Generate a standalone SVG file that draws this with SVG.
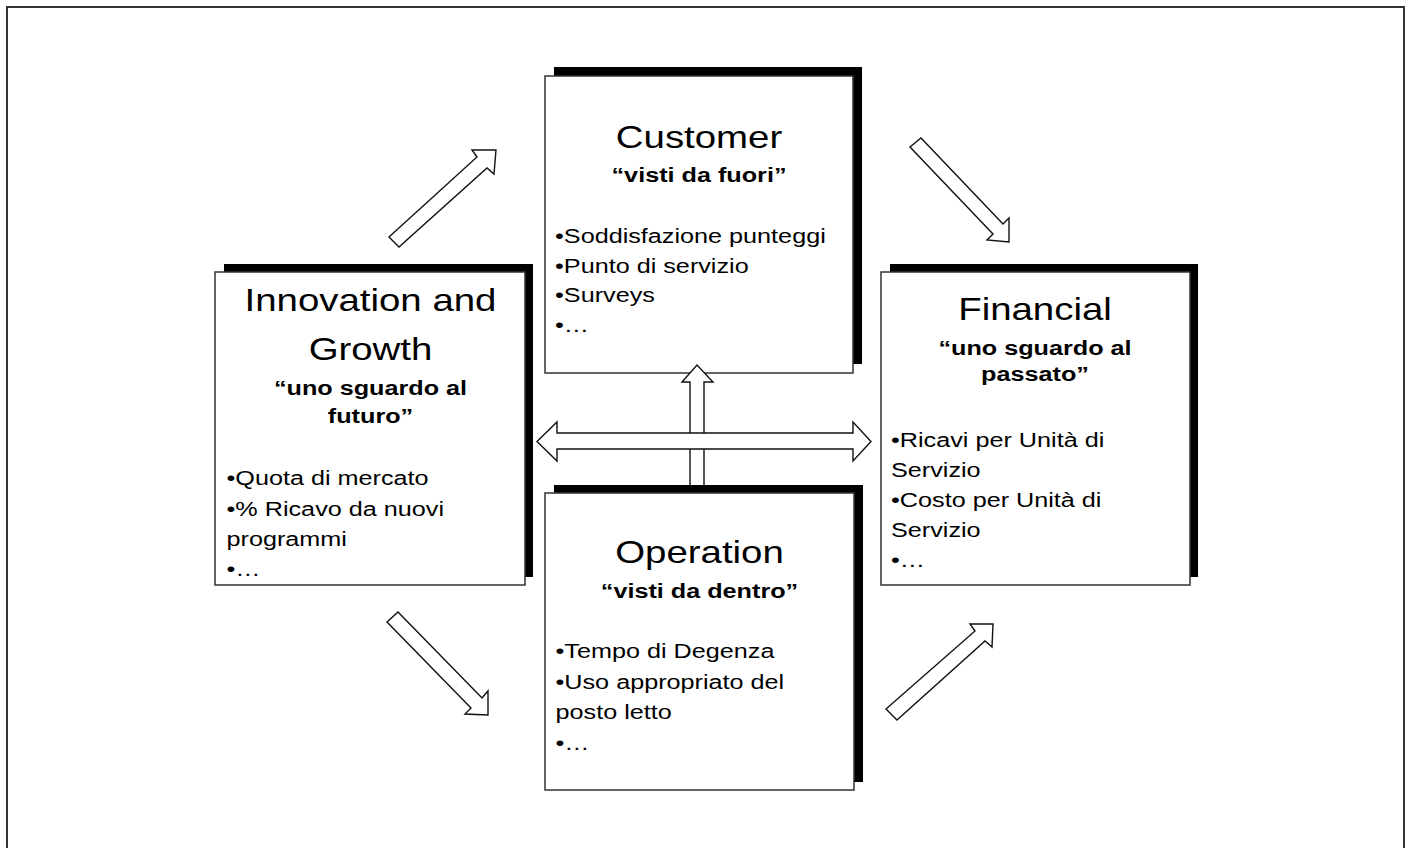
<svg xmlns="http://www.w3.org/2000/svg" width="1410" height="848" viewBox="0 0 1410 848">
<style>
.shadow{fill:#000}
.box{fill:#fff;stroke:#333;stroke-width:1.5}
.arrow{fill:#fff;stroke:#111;stroke-width:1.4;stroke-linejoin:miter}
text{font-family:"Liberation Sans",Arial,sans-serif;fill:#000}
.title{font-size:32px;text-anchor:middle}
.sub{font-size:21px;font-weight:bold;text-anchor:middle}
.body{font-size:21px}
</style>
<rect x="0" y="0" width="1410" height="848" fill="#fff"/>
<path d="M7,860 V7 H1404 V860" fill="none" stroke="#333" stroke-width="2"/>

<g id="innovation">
<rect class="shadow" x="224" y="264" width="309" height="313"/>
<rect class="box" x="215" y="272" width="310" height="313"/>
<g transform="translate(370.5 0) scale(1.2 1)">
<text class="title" x="0" y="311.5">Innovation and</text>
<text class="title" x="0" y="360.5">Growth</text>
<text class="sub" x="0" y="395.5">“uno sguardo al</text>
<text class="sub" x="0" y="423">futuro”</text>
<text class="body" x="-120" y="485.5">•Quota di mercato</text>
<text class="body" x="-120" y="516">•% Ricavo da nuovi</text>
<text class="body" x="-120" y="546">programmi</text>
<text class="body" x="-120" y="576.5">•…</text>
</g>
</g>

<g id="financial">
<rect class="shadow" x="890" y="264" width="308" height="313"/>
<rect class="box" x="881" y="272" width="309" height="313"/>
<g transform="translate(1035 0) scale(1.2 1)">
<text class="title" x="0" y="320">Financial</text>
<text class="sub" x="0" y="355">“uno sguardo al</text>
<text class="sub" x="0" y="381.5">passato”</text>
<text class="body" x="-120" y="447">•Ricavi per Unità di</text>
<text class="body" x="-120" y="477">Servizio</text>
<text class="body" x="-120" y="507">•Costo per Unità di</text>
<text class="body" x="-120" y="537">Servizio</text>
<text class="body" x="-120" y="567.5">•…</text>
</g>
</g>

<g id="customer">
<rect class="shadow" x="554" y="67" width="308" height="297"/>
<rect class="box" x="545" y="76" width="308" height="297"/>
<g transform="translate(699 0) scale(1.2 1)">
<text class="title" x="0" y="148">Customer</text>
<text class="sub" x="0" y="182">“visti da fuori”</text>
<text class="body" x="-120" y="243">•Soddisfazione punteggi</text>
<text class="body" x="-120" y="273">•Punto di servizio</text>
<text class="body" x="-120" y="302.5">•Surveys</text>
<text class="body" x="-120" y="332.5">•…</text>
</g>
</g>

<g id="connectors">
<polygon class="arrow" points="389,237 477,157 472,150 496,150 494,174 487,168 399,247"/>
<polygon class="arrow" points="910,147 921,138 1003,224 1009,218 1009,242 987,240 993,234"/>
<polygon class="arrow" points="387,622 398,612 482,698 488,691 488,715 465,714 471,708"/>
<polygon class="arrow" points="886,709 975,631 970,624 993,624 992,647 985,641 897,720"/>
<polygon class="arrow" points="690,486 690,382 682,382 697,365 713,382 704,382 704,486"/>
<polygon class="arrow" points="537,441.5 557,422 557,433 853,433 853,422 871,441.5 853,461 853,449 557,449 557,461"/>
</g>

<g id="operation">
<rect class="shadow" x="554" y="485" width="309" height="297"/>
<rect class="box" x="545" y="493" width="309" height="297"/>
<g transform="translate(699.5 0) scale(1.2 1)">
<text class="title" x="0" y="563">Operation</text>
<text class="sub" x="0" y="598">“visti da dentro”</text>
<text class="body" x="-120" y="658.5">•Tempo di Degenza</text>
<text class="body" x="-120" y="689">•Uso appropriato del</text>
<text class="body" x="-120" y="719.5">posto letto</text>
<text class="body" x="-120" y="750">•…</text>
</g>
</g>
</svg>
